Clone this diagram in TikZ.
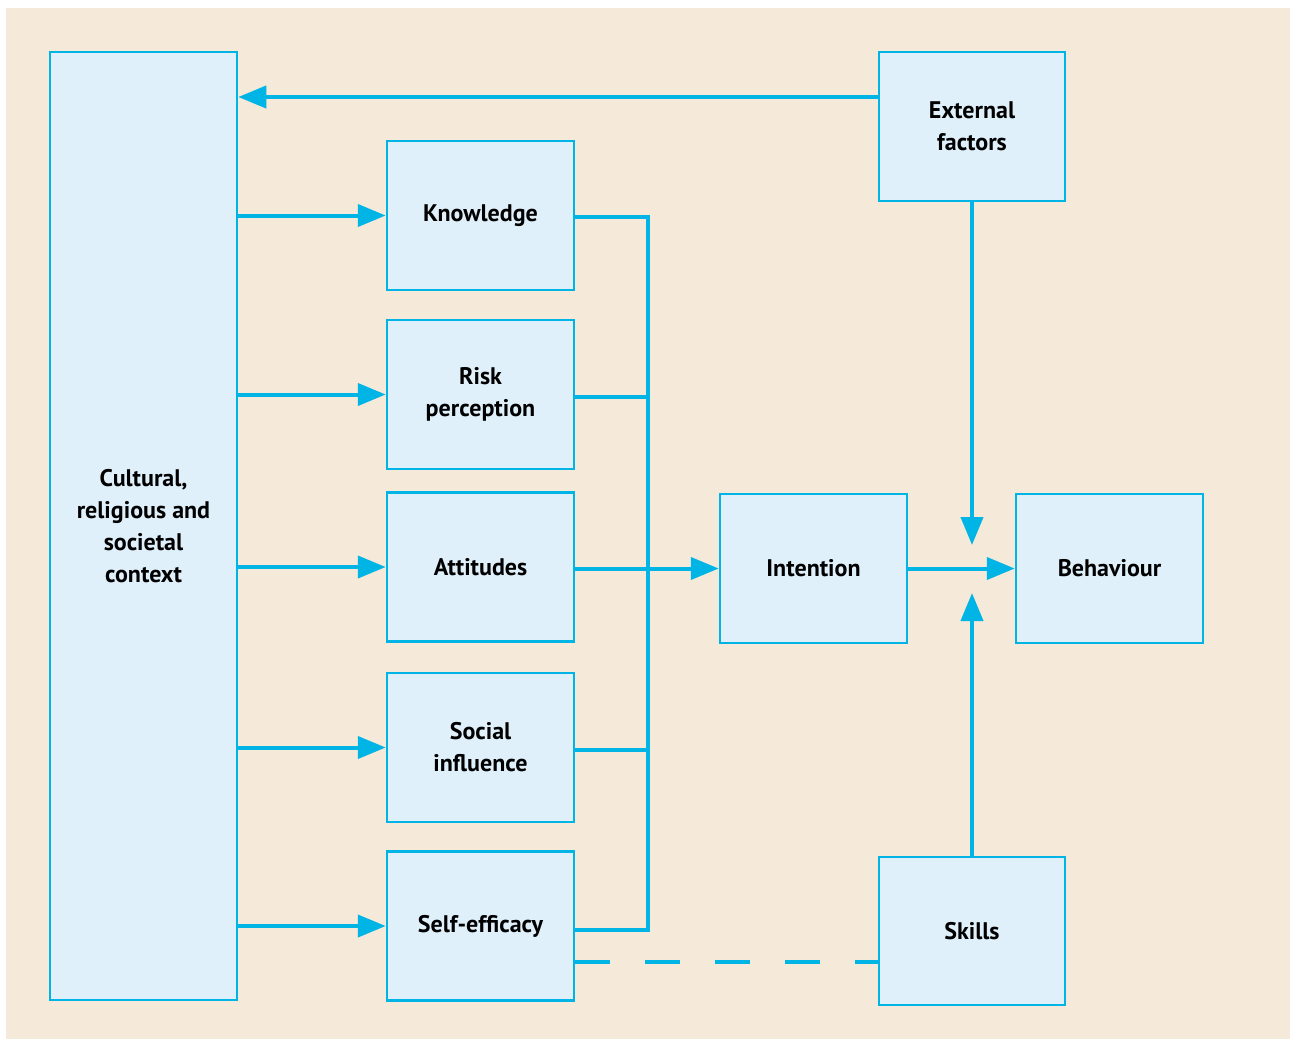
\documentclass[tikz,border=0pt]{standalone}
\usepackage{fontspec}
\setmainfont{PT Sans}
\usetikzlibrary{arrows.meta,calc}
\definecolor{bgc}{HTML}{F5E9DA}
\definecolor{boxfill}{HTML}{DFF0FA}
\definecolor{cyanline}{HTML}{00B5E6}
\begin{document}
\begin{tikzpicture}[x=0.5pt,y=-0.5pt,
  box/.style={draw=cyanline,fill=boxfill,line width=1.25pt,minimum width=93.5pt,minimum height=74.5pt,
    inner sep=0pt,align=center,font=\fontsize{12}{16}\selectfont\bfseries},
  conn/.style={draw=cyanline,line width=2pt},
  arr/.style={conn,-{Triangle[length=14pt,width=11pt]}}]
\useasboundingbox (0,0) rectangle (1290,1039);
\fill[white] (0,0) rectangle (1290,1039);
\fill[bgc] (6,8) rectangle (1290,1039);
% nodes
\node[box,minimum height=474pt] (ctx) at (143.5,526) {Cultural,\\religious and\\societal\\context};
\node[box,minimum width=93pt] (ext) at (972,126.5) {External\\factors};
\node[box] (know) at (480.5,215.5) {Knowledge};
\node[box] (risk) at (480.5,394.5) {Risk\\perception};
\node[box] (att) at (480.5,567) {Attitudes};
\node[box] (soc) at (480.5,747.5) {Social\\influence};
\node[box] (self) at (480.5,926) {Self-efficacy};
\node[box] (int) at (813.5,568.5) {Intention};
\node[box] (beh) at (1109.5,568.5) {Behaviour};
\node[box,minimum width=93pt,minimum height=74pt] (sk) at (972,931) {Skills};
% helper coordinates
\coordinate (bx) at (648,0);
\coordinate (e1) at ($(ext.west)+(0,-29.5)$);
\coordinate (k1) at ($(know.east)+(0,1.5)$);
\coordinate (s1) at ($(self.east)+(0,4)$);
\coordinate (jt) at (972,545);
\coordinate (jb) at (972,593);
\coordinate (d1) at ($(self.east)+(0,36)$);
% external -> context
\draw[arr] (e1) -- (ctx.east |- e1);
% context -> boxes
\foreach \n in {know,risk,att,soc,self}
  \draw[arr] (ctx.east |- \n.west) -- (\n.west);
% boxes -> bus
\draw[conn,line join=miter] (k1) -- (bx |- k1) -- (bx |- s1) -- (s1);
\foreach \n in {risk,soc}
  \draw[conn] ($(\n.east)+(0,2)$) -- ($(bx |- \n.east)+(0,2)$);
\draw[arr] (att.east |- int.west) -- (int.west);
\draw[arr] (int.east) -- (beh.west);
\draw[arr] (ext.south) -- (jt);
\draw[arr] (sk.north) -- (jb);
\draw[conn,dash pattern=on 17.5pt off 17.5pt] (d1) -- (sk.west |- d1);
\end{tikzpicture}
\end{document}
